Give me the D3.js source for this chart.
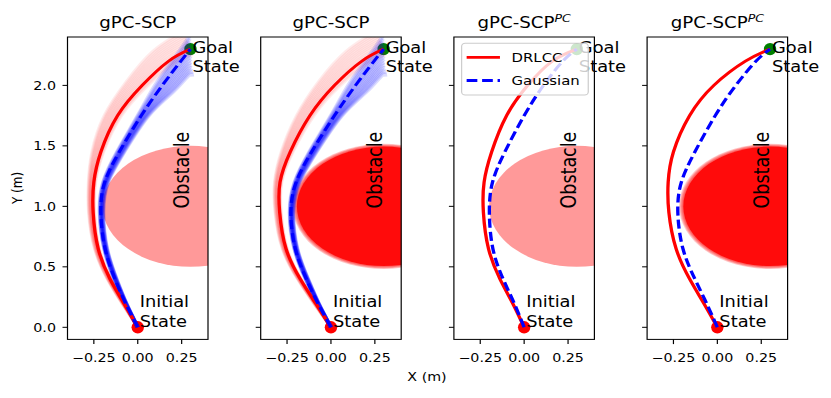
<!DOCTYPE html>
<html>
<head>
<meta charset="utf-8">
<script src="https://cdn.jsdelivr.net/npm/d3@7"></script>
<style>
body { margin: 0; background: #fff; }
text { font-family: "DejaVu Sans", sans-serif; fill: #000; }
</style>
</head>
<body>
<div id="chart-area"></div>
<script>
// Data
var titleMain = ["gPC-SCP", "gPC-SCP", "gPC-SCP", "gPC-SCP"];
var titleSup = ["", "", "PC", "PC"];

var pathY = [0, 0.2, 0.4, 0.65, 0.95, 1.2, 1.45, 1.75, 2.0, 2.2, 2.3];
var redX = [
    [0, -0.08, -0.158, -0.225, -0.254, -0.25, -0.21, -0.115, 0.025, 0.175, 0.3],
    [0, -0.088, -0.175, -0.256, -0.292, -0.29, -0.232, -0.12, 0.02, 0.175, 0.3],
    [0, -0.066, -0.138, -0.203, -0.232, -0.228, -0.185, -0.1, 0.02, 0.16, 0.3],
    [0, -0.078, -0.158, -0.235, -0.276, -0.28, -0.25, -0.158, -0.02, 0.16, 0.3]
];
var blueX = [
    [0, -0.07, -0.13, -0.186, -0.21, -0.188, -0.105, 0.02, 0.14, 0.245, 0.3],
    [0, -0.075, -0.14, -0.203, -0.228, -0.198, -0.11, 0.02, 0.14, 0.245, 0.3],
    [0, -0.057, -0.12, -0.178, -0.198, -0.18, -0.11, 0.0, 0.11, 0.22, 0.3],
    [0, -0.062, -0.128, -0.196, -0.225, -0.205, -0.128, -0.012, 0.105, 0.22, 0.3]
];

// spread of the sampled trajectories (panels 1 and 2)
var redBandDX = [0, -0.01, -0.015, -0.02, -0.025, -0.03, -0.05, -0.075, -0.09, -0.09, -0.04];
var redBandDY = [0, 0, 0, 0, 0, 0, 0, 0, 0.03, 0.08, 0.15];
var blueBandDX = [0, 0.005, 0.01, 0.012, 0.015, 0.02, 0.03, 0.045, 0.07, 0.05, 0.01];
var blueBandDY = [0, 0, 0, 0, 0, 0, 0, 0, -0.05, -0.12, -0.24];
var redSamples = [-0.3, -0.2, -0.1, 0, 0.1, 0.2, 0.3, 0.4, 0.5, 0.6, 0.7, 0.8, 0.9, 1.0];
var blueSamples = [-0.45, -0.35, -0.25, -0.15, -0.05, 0.05, 0.15, 0.25, 0.35, 0.45, 0.55, 0.65, 0.75, 0.85, 0.95];
var showBands = [true, true, false, false];

var obstacleCenter = [0.3, 1.0];
var obstacleRadius = 0.5;
var denseObstacle = [false, true, false, true];
var denseRings = [0.5, 0.506, 0.512, 0.518];

var startPt = [0, 0];
var goalPt = [0.3, 2.3];

var xTicks = [-0.25, 0, 0.25];
var yTicks = [0, 0.5, 1.0, 1.5, 2.0];
var xTickLabels = ["\u22120.25", "0.00", "0.25"];
var yTickLabels = ["0.0", "0.5", "1.0", "1.5", "2.0"];

// Layout (figure is horizontally stretched)
var sx = 1.19;
var W = 831, H = 398;
var panelW = 140.5 / sx, panelH = 302.4, panelTop = 37;

var svg = d3.select("#chart-area").append("svg")
    .attr("width", W)
    .attr("height", H);
var defs = svg.append("defs");
var root = svg.append("g").attr("transform", "scale(" + sx + ",1)");

var x = d3.scaleLinear().domain([-0.4, 0.4]).range([0, panelW]);
var y = d3.scaleLinear().domain([-0.1, 2.4]).range([panelH, 0]);

var line = d3.line()
    .x(function(d) { return x(d[0]); })
    .y(function(d) { return y(d[1]); })
    .curve(d3.curveNatural);

function pts(xs, dx, dy, s) {
    return pathY.map(function(v, k) {
        return [xs[k] + (dx ? s * dx[k] : 0), v + (dy ? s * dy[k] : 0)];
    });
}

function obstacle(sel, r, opacity) {
    sel.append("ellipse")
        .attr("cx", x(obstacleCenter[0]))
        .attr("cy", y(obstacleCenter[1]))
        .attr("rx", x(obstacleCenter[0] + r) - x(obstacleCenter[0]))
        .attr("ry", y(obstacleCenter[1]) - y(obstacleCenter[1] + r))
        .attr("fill", "red")
        .attr("fill-opacity", opacity);
}

for (var i = 0; i < 4; i++) {
    var g = root.append("g")
        .attr("transform", "translate(" + ((67.5 + i * 193.2) / sx) + "," + panelTop + ")");

    defs.append("clipPath").attr("id", "clip" + i)
        .append("rect").attr("width", panelW).attr("height", panelH);

    var plot = g.append("g").attr("clip-path", "url(#clip" + i + ")");

    // Obstacle
    if (denseObstacle[i]) {
        denseRings.forEach(function(r) { obstacle(plot, r, 0.22); });
        obstacle(plot, 0.494, 0.88);
    } else {
        obstacle(plot, obstacleRadius, 0.4);
    }

    // Markers
    plot.append("ellipse")
        .attr("cx", x(goalPt[0])).attr("cy", y(goalPt[1]))
        .attr("rx", 6.2 / sx).attr("ry", 6.2)
        .attr("fill", "green");
    plot.append("ellipse")
        .attr("cx", x(startPt[0])).attr("cy", y(startPt[1]))
        .attr("rx", 6.2 / sx).attr("ry", 6.2)
        .attr("fill", "red");

    // Sampled trajectories
    if (showBands[i]) {
        redSamples.forEach(function(s) {
            plot.append("path")
                .attr("d", line(pts(redX[i], redBandDX, redBandDY, s)))
                .attr("fill", "none")
                .attr("stroke", "red")
                .attr("stroke-opacity", 0.08)
                .attr("stroke-width", 3);
        });
        blueSamples.forEach(function(s) {
            plot.append("path")
                .attr("d", line(pts(blueX[i], blueBandDX, blueBandDY, s)))
                .attr("fill", "none")
                .attr("stroke", "blue")
                .attr("stroke-opacity", 0.14)
                .attr("stroke-width", 3.5);
        });
    }

    // Nominal trajectories
    plot.append("path")
        .attr("d", line(pts(redX[i])))
        .attr("fill", "none")
        .attr("stroke", "red")
        .attr("stroke-width", 2.8);
    plot.append("path")
        .attr("d", line(pts(blueX[i])))
        .attr("fill", "none")
        .attr("stroke", "blue")
        .attr("stroke-width", 2.8)
        .attr("stroke-dasharray", "9,4");

    // Spines
    g.append("rect")
        .attr("width", panelW).attr("height", panelH)
        .attr("fill", "none").attr("stroke", "#000").attr("stroke-width", 1);

    // X ticks
    xTicks.forEach(function(t, k) {
        g.append("line")
            .attr("x1", x(t)).attr("x2", x(t))
            .attr("y1", panelH).attr("y2", panelH + 4.7)
            .attr("stroke", "#000").attr("stroke-width", 1);
        g.append("text")
            .attr("x", x(t)).attr("y", panelH + 22.3)
            .attr("text-anchor", "middle")
            .style("font-size", "12px")
            .text(xTickLabels[k]);
    });

    // Y ticks
    yTicks.forEach(function(t, k) {
        g.append("line")
            .attr("x1", 0).attr("x2", -4.2)
            .attr("y1", y(t)).attr("y2", y(t))
            .attr("stroke", "#000").attr("stroke-width", 1);
        if (i == 0) {
            g.append("text")
                .attr("x", -9.7).attr("y", y(t) + 4.3)
                .attr("text-anchor", "end")
                .style("font-size", "12px")
                .text(yTickLabels[k]);
        }
    });

    // Title
    var title = g.append("text")
        .attr("x", panelW / 2).attr("y", -9.5)
        .attr("text-anchor", "middle")
        .style("font-size", "15.3px")
        .text(titleMain[i]);
    if (titleSup[i]) {
        title.append("tspan")
            .attr("dy", -6)
            .style("font-size", "10.5px")
            .style("font-style", "italic")
            .text(titleSup[i]);
    }

    // Annotations
    var goalLabel = g.append("text")
        .attr("x", x(goalPt[0]) + 2 / sx)
        .attr("y", y(goalPt[1]) + 4)
        .style("font-size", "15px");
    goalLabel.append("tspan").text("Goal");
    goalLabel.append("tspan").attr("x", x(goalPt[0]) + 2 / sx).attr("dy", 19.4).text("State");

    var startLabel = g.append("text")
        .attr("x", x(startPt[0]) + 2 / sx)
        .attr("y", y(startPt[1]) - 20)
        .style("font-size", "15px");
    startLabel.append("tspan").text("Initial");
    startLabel.append("tspan").attr("x", x(startPt[0]) + 2 / sx).attr("dy", 19.4).text("State");

    g.append("text")
        .attr("transform", "translate(" + x(0.25) + "," + y(1.3) + ") rotate(-90)")
        .attr("text-anchor", "middle")
        .attr("dy", "0.36em")
        .style("font-size", "17.5px")
        .text("Obstacle");

    // Legend (third panel)
    if (i == 2) {
        var lg = g.append("g").attr("transform", "translate(6.5,6.3)");
        lg.append("rect")
            .attr("width", 106.4).attr("height", 51.7)
            .attr("rx", 3).attr("ry", 3)
            .attr("fill", "#fff").attr("fill-opacity", 0.8)
            .attr("stroke", "#cccccc").attr("stroke-width", 1);
        lg.append("line")
            .attr("x1", 4.2).attr("x2", 32.2).attr("y1", 14).attr("y2", 14)
            .attr("stroke", "red").attr("stroke-width", 2.8);
        lg.append("text")
            .attr("x", 42).attr("y", 18.6)
            .style("font-size", "12.5px")
            .text("DRLCC");
        lg.append("line")
            .attr("x1", 4.2).attr("x2", 32.2).attr("y1", 37.2).attr("y2", 37.2)
            .attr("stroke", "blue").attr("stroke-width", 2.8)
            .attr("stroke-dasharray", "9,4");
        lg.append("text")
            .attr("x", 42).attr("y", 41.8)
            .style("font-size", "12.5px")
            .text("Gaussian");
    }
}

// Axis labels
root.append("text")
    .attr("transform", "translate(" + (17 / sx) + "," + 188 + ") rotate(-90)")
    .attr("text-anchor", "middle")
    .attr("dy", "0.36em")
    .style("font-size", "12px")
    .text("Y (m)");

root.append("text")
    .attr("x", 427 / sx).attr("y", 381.5)
    .attr("text-anchor", "middle")
    .style("font-size", "12px")
    .text("X (m)");
</script>
</body>
</html>
